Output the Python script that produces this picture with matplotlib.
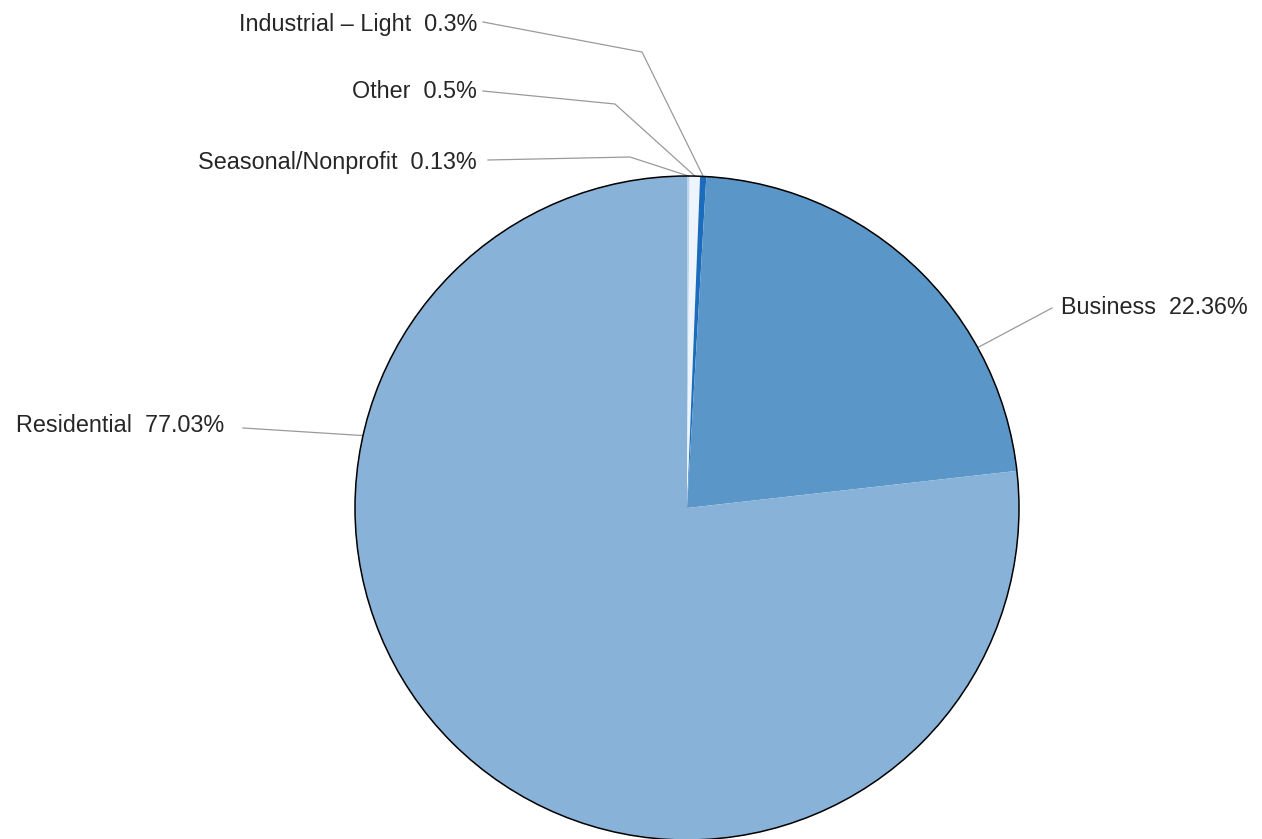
import numpy as np
import matplotlib.pyplot as plt
from matplotlib.patches import Circle

categories = ["Seasonal/Nonprofit", "Other", "Industrial – Light", "Business", "Residential"]
shares = [0.13, 0.5, 0.3, 22.36, 77.03]
colors = ["#bcd5ec", "#eef4fb", "#1c6cbc", "#5a96c8", "#88b2d8"]

W, H = 1262, 839
fig = plt.figure(figsize=(W / 100, H / 100), dpi=100)
ax = fig.add_axes([0, 0, 1, 1])

cx, cy, r = 687, H - 508, 332
wedges, _ = ax.pie(shares, colors=colors, startangle=90, counterclock=False,
                   center=(cx, cy), radius=r, frame=True,
                   wedgeprops=dict(linewidth=0))
ax.add_patch(Circle((cx, cy), r, fill=False, edgecolor="black", lw=1.1, zorder=5))

ax.set_xlim(0, W)
ax.set_ylim(0, H)
ax.set_aspect("equal")
ax.axis("off")

font = dict(family="Liberation Sans", fontsize=16.8, color="#262626")

# label anchor, elbow points, alignment and where along the wedge the leader lands
label_layout = {
    "Seasonal/Nonprofit": ((477, 163), [(488, 160), (630, 157)], "right", 0.5),
    "Other": ((477, 92), [(483, 91), (615, 104)], "right", 0.5),
    "Industrial – Light": ((477, 24), [(483, 22), (642, 52)], "right", 0.5),
    "Business": ((1061, 308), [(1052, 308)], "left", 0.28),
    "Residential": ((224, 425), [(243, 428)], "right", 0.28),
}

for w, name, val in zip(wedges, categories, shares):
    (tx, ty), pts, ha, frac = label_layout[name]
    ang = np.deg2rad(w.theta1 + frac * (w.theta2 - w.theta1))
    ex, ey = cx + r * np.cos(ang), cy + r * np.sin(ang)
    xs = [p[0] for p in pts] + [ex]
    ys = [H - p[1] for p in pts] + [ey]
    ax.plot(xs, ys, color="#9a9a9a", lw=0.9, zorder=4)
    ax.text(tx, H - ty, f"{name}  {val:g}%", ha=ha, va="center", **font)

fig.savefig("out.png", dpi=100)
